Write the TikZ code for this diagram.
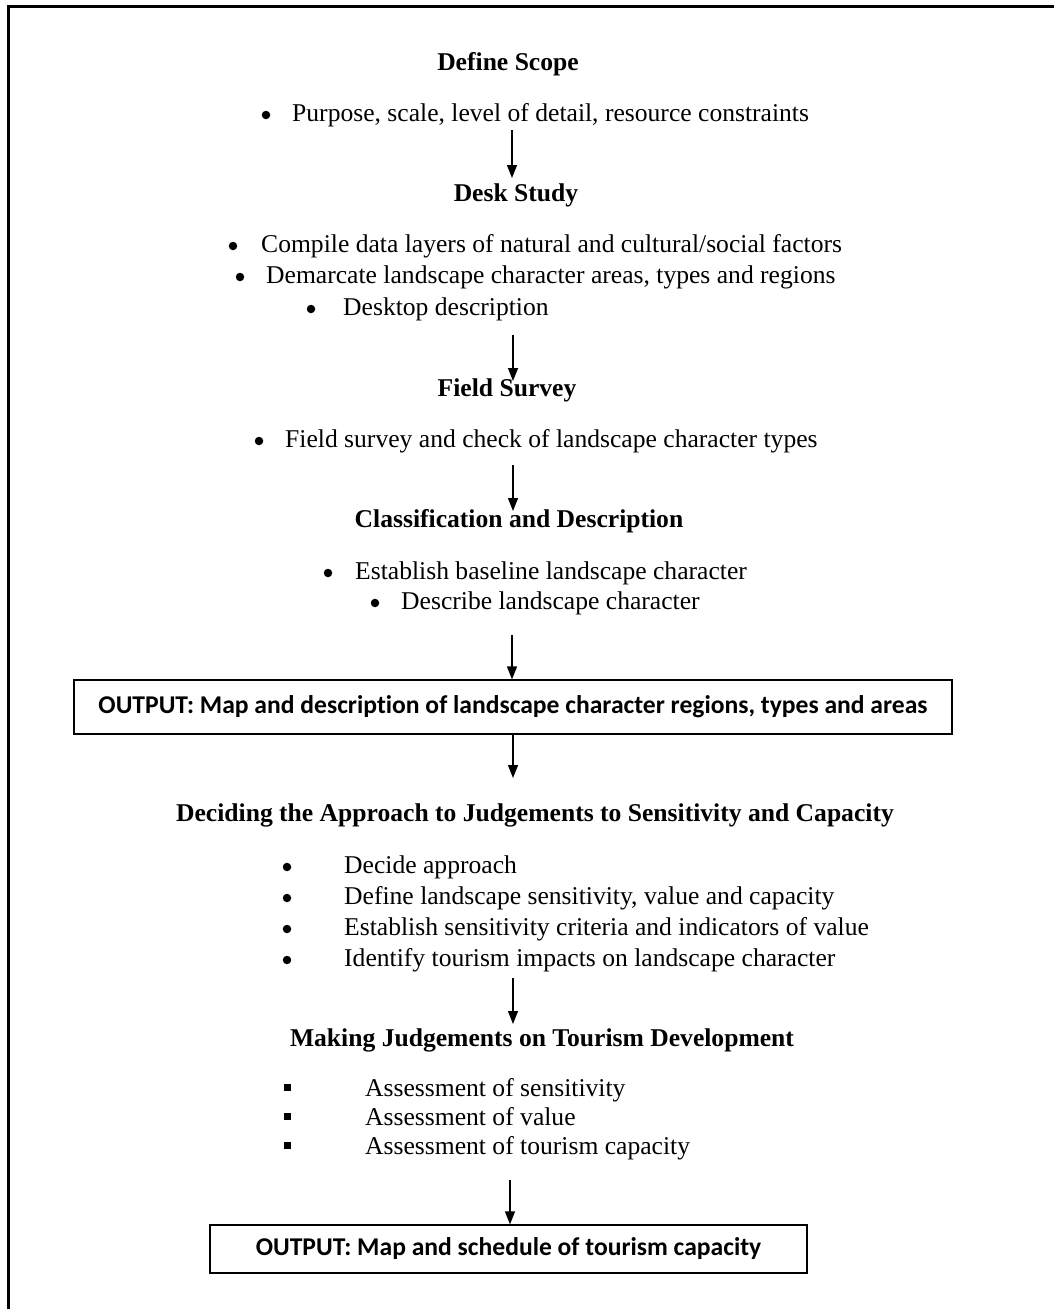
\documentclass[tikz,border=0pt]{standalone}
\usepackage{fontspec}
\setmainfont{Liberation Serif}
\newfontfamily\calib[Ligatures=NoCommon]{Carlito}
\usetikzlibrary{arrows.meta}
\begin{document}
\begin{tikzpicture}[x=1pt,y=-1pt,
  head/.style={font=\fontsize{25.6}{26}\selectfont\bfseries, inner sep=0, text height=18pt, text depth=2pt},
  item/.style={font=\fontsize{25.6}{26}\selectfont, inner sep=0, anchor=west, text height=18pt, text depth=2pt},
  dot/.style={circle, fill, inner sep=0, minimum size=8.5pt},
  sq/.style={fill, inner sep=0, minimum size=7pt},
  flow/.style={-{Triangle[length=13pt,width=10pt]}, line width=1.4pt},
  outbox/.style={draw, line width=1.3pt, inner sep=0, font=\calib\fontsize{25.6}{26}\selectfont\bfseries, text height=18pt, text depth=5pt}
]
\useasboundingbox (0,0) rectangle (1054,1309);
\draw[line width=3pt] (8,1309) -- (8,6) -- (1054,6);

% Define Scope
\node[head] (h1) at (508,62) {Define Scope};
\node[dot] (d11) at (266,115) {};
\node[item] (t11) at (292,113) {Purpose, scale, level of detail, resource constraints};
\coordinate (a1s) at (512,130);
\coordinate (a1e) at (512,178);

% Desk Study
\node[head] (h2) at (516,193) {Desk Study};
\node[dot] (d21) at (233,246) {};
\node[item] (t21) at (261,244) {Compile data layers of natural and cultural/social factors};
\node[dot] (d22) at (240,277) {};
\node[item] (t22) at (266,275) {Demarcate landscape character areas, types and regions};
\node[dot] (d23) at (311,309) {};
\node[item] (t23) at (343,307) {Desktop description};
\coordinate (a2s) at (513,335);
\coordinate (a2e) at (513,381);

% Field Survey
\node[head] (h3) at (507,388) {Field Survey};
\node[dot] (d31) at (259,441) {};
\node[item] (t31) at (285,439) {Field survey and check of landscape character types};
\coordinate (a3s) at (513,465);
\coordinate (a3e) at (513,511);

% Classification
\node[head] (h4) at (519,519) {Classification and Description};
\node[dot] (d41) at (328,573) {};
\node[item] (t41) at (355,571) {Establish baseline landscape character};
\node[dot] (d42) at (375,603) {};
\node[item] (t42) at (401,601) {Describe landscape character};
\coordinate (a4s) at (512,635);

% Output 1
\node[outbox, minimum width=878pt, minimum height=54pt] (o1) at (513,707) {OUTPUT: Map and description of landscape character regions, types and areas};
\coordinate (a5e) at (513,778);

% Deciding
\node[head] (h5) at (535,813) {Deciding the Approach to Judgements to Sensitivity and Capacity};
\node[dot] (d51) at (287,867) {};
\node[item] (t51) at (344,865) {Decide approach};
\node[dot] (d52) at (287,898) {};
\node[item] (t52) at (344,896) {Define landscape sensitivity, value and capacity};
\node[dot] (d53) at (287,929) {};
\node[item] (t53) at (344,927) {Establish sensitivity criteria and indicators of value};
\node[dot] (d54) at (287,960) {};
\node[item] (t54) at (344,958) {Identify tourism impacts on landscape character};
\coordinate (a6s) at (513,978);
\coordinate (a6e) at (513,1024);

% Making Judgements
\node[head] (h6) at (542,1038) {Making Judgements on Tourism Development};
\node[sq] (s61) at (287,1087) {};
\node[item] (t61) at (365,1088) {Assessment of sensitivity};
\node[sq] (s62) at (287,1116) {};
\node[item] (t62) at (365,1117) {Assessment of value};
\node[sq] (s63) at (287,1145) {};
\node[item] (t63) at (365,1146) {Assessment of tourism capacity};
\coordinate (a7s) at (510,1180);

% Output 2
\node[outbox, minimum width=597pt, minimum height=48pt] (o2) at (508.5,1249) {OUTPUT: Map and schedule of tourism capacity};

% arrows
\draw[flow] (a1s) -- (a1e);
\draw[flow] (a2s) -- (a2e);
\draw[flow] (a3s) -- (a3e);
\draw[flow] (a4s) -- (a4s |- o1.north);
\draw[flow] (a5e |- o1.south) -- (a5e);
\draw[flow] (a6s) -- (a6e);
\draw[flow] (a7s) -- (a7s |- o2.north);
\end{tikzpicture}
\end{document}
